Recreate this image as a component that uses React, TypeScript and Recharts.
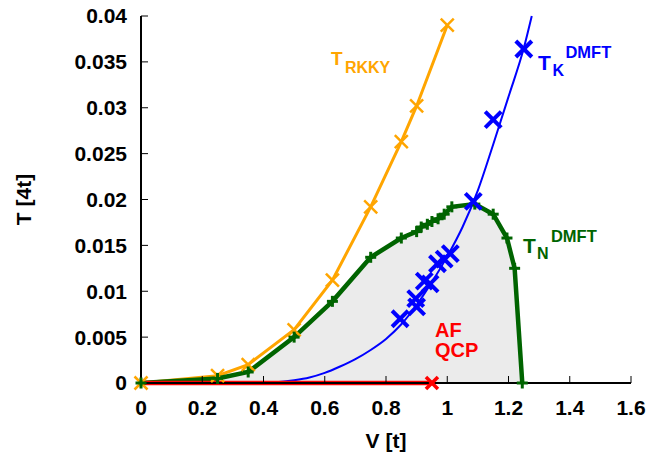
import React from "react";
import { ComposedChart, Line, Area, XAxis, YAxis, ReferenceDot } from "recharts";

// ---- data ----
const rkkyV = [0, 0.25, 0.35, 0.5, 0.625, 0.75, 0.85, 0.9, 1.0];
const rkkyT = [0, 0.0008, 0.002, 0.0058, 0.0112, 0.0192, 0.0263, 0.0302, 0.039];

const tnV = [0, 0.25, 0.35, 0.5, 0.625, 0.75, 0.85, 0.9, 0.915, 0.935, 0.95, 0.97, 0.99, 1.015, 1.09, 1.15, 1.195, 1.22, 1.245];
const tnT = [0, 0.0005, 0.0012, 0.005, 0.0089, 0.0137, 0.0158, 0.0165, 0.017, 0.0173, 0.0176, 0.0179, 0.0184, 0.0192, 0.0195, 0.0184, 0.0158, 0.0125, 0];

const tkV = [0.846, 0.9, 0.897, 0.925, 0.944, 0.968, 0.99, 1.01, 1.085, 1.15, 1.25];
const tkT = [0.007, 0.0083, 0.0092, 0.0111, 0.0108, 0.013, 0.0135, 0.0141, 0.0198, 0.0287, 0.0364];

const fitV = [0.35, 0.4, 0.45, 0.5, 0.55, 0.6, 0.65, 0.7, 0.75, 0.8, 0.85, 0.9, 0.95, 1.0, 1.05, 1.1, 1.15, 1.2, 1.25, 1.276];
const fitT = [0, 0.00002, 0.0001, 0.0003, 0.0006, 0.0011, 0.0018, 0.0026, 0.0036, 0.0048, 0.0064, 0.0085, 0.011, 0.0138, 0.017, 0.021, 0.026, 0.0312, 0.0365, 0.04];

const afV = [0, 0.95];
const afT = [0, 0];

const xTicks = [0, 0.2, 0.4, 0.6, 0.8, 1, 1.2, 1.4, 1.6];
const yTicks = [0, 0.005, 0.01, 0.015, 0.02, 0.025, 0.03, 0.035, 0.04];

const zip = (xs: number[], ys: number[]) => xs.map((v, i) => ({ v, t: ys[i] }));
const rkkyData = zip(rkkyV, rkkyT);
const tnData = zip(tnV, tnT);
const tkData = zip(tkV, tkT);
const fitData = zip(fitV, fitT);
const afData = zip(afV, afT);

const FONT = "'Liberation Sans', Arial, Helvetica, sans-serif";
const ORANGE = "#FFA500";
const GREEN = "#006400";
const BLUE = "#0000FF";
const RED = "#FF0000";

const XMark = ({ cx, cy, s, color, w }: any) => (
  <g>
    <line x1={cx - s} y1={cy - s} x2={cx + s} y2={cy + s} stroke={color} strokeWidth={w} />
    <line x1={cx - s} y1={cy + s} x2={cx + s} y2={cy - s} stroke={color} strokeWidth={w} />
  </g>
);
const PlusMark = ({ cx, cy, s, color, w }: any) => (
  <g>
    <line x1={cx - s} y1={cy} x2={cx + s} y2={cy} stroke={color} strokeWidth={w} />
    <line x1={cx} y1={cy - s} x2={cx} y2={cy + s} stroke={color} strokeWidth={w} />
  </g>
);

const tickStyle = { fontFamily: FONT, fontWeight: "bold", fontSize: 21, fill: "#000" };
const axisLine = { stroke: "#000", strokeWidth: 2 };
const tickLine = { stroke: "#000", strokeWidth: 1 };

export default function App() {
  return (
    <div style={{ position: "absolute", left: 0, top: 0 }}>
      <ComposedChart width={665} height={453} data={tnData} margin={{ top: 16, right: 34, bottom: 0, left: 0 }}>
        <XAxis
          dataKey="v"
          type="number"
          domain={[0, 1.6]}
          ticks={xTicks}
          interval={0}
          height={70}
          tickSize={-7}
          tickMargin={24}
          tick={tickStyle}
          axisLine={axisLine}
          tickLine={tickLine}
          label={{
            content: ({ viewBox }: any) => (
              <text x={viewBox.x + viewBox.width / 2} y={viewBox.y + 65} textAnchor="middle" style={{ fontFamily: FONT, fontWeight: "bold", fontSize: 21 }} fill="#000">
                V [t]
              </text>
            ),
          }}
        />
        <XAxis
          xAxisId="top"
          orientation="top"
          dataKey="v"
          type="number"
          domain={[0, 1.6]}
          ticks={xTicks}
          interval={0}
          height={0}
          tickSize={-7}
          tickFormatter={() => ""}
          axisLine={axisLine}
          tickLine={tickLine}
        />
        <YAxis
          type="number"
          domain={[0, 0.04]}
          ticks={yTicks}
          interval={0}
          width={141}
          tickSize={-7}
          tickMargin={21}
          tick={tickStyle}
          axisLine={axisLine}
          tickLine={tickLine}
          label={{
            content: ({ viewBox }: any) => {
              const cx = 31;
              const cy = viewBox.y + viewBox.height / 2;
              return (
                <text x={cx} y={cy} transform={`rotate(-90 ${cx} ${cy})`} textAnchor="middle" style={{ fontFamily: FONT, fontWeight: "bold", fontSize: 21 }} fill="#000">
                  T [4t]
                </text>
              );
            },
          }}
        />
        <YAxis
          yAxisId="right"
          orientation="right"
          type="number"
          domain={[0, 0.04]}
          ticks={yTicks}
          interval={0}
          width={0}
          tickSize={-7}
          tickFormatter={() => ""}
          axisLine={axisLine}
          tickLine={tickLine}
        />

        <Area dataKey="t" type="linear" fill="#ebebeb" fillOpacity={1} stroke="none" isAnimationActive={false} activeDot={false} />

        <Line
          data={rkkyData}
          dataKey="t"
          type="linear"
          stroke={ORANGE}
          strokeWidth={3}
          isAnimationActive={false}
          activeDot={false}
          dot={(p: any) => <XMark key={`o${p.index}`} cx={p.cx} cy={p.cy} s={6.5} color={ORANGE} w={2.5} />}
        />
        <Line
          data={tnData}
          dataKey="t"
          type="linear"
          stroke={GREEN}
          strokeWidth={4.5}
          isAnimationActive={false}
          activeDot={false}
          dot={(p: any) => <PlusMark key={`g${p.index}`} cx={p.cx} cy={p.cy} s={5.5} color={GREEN} w={3} />}
        />
        <Line
          data={fitData}
          dataKey="t"
          type="monotone"
          stroke={BLUE}
          strokeWidth={2}
          isAnimationActive={false}
          activeDot={false}
          dot={false}
        />
        <Line
          data={tkData}
          dataKey="t"
          type="linear"
          stroke="none"
          isAnimationActive={false}
          activeDot={false}
          dot={(p: any) => <XMark key={`b${p.index}`} cx={p.cx} cy={p.cy} s={8} color={BLUE} w={4} />}
        />
        <Line
          data={afData}
          dataKey="t"
          type="linear"
          stroke={RED}
          strokeWidth={4.5}
          isAnimationActive={false}
          activeDot={false}
          dot={(p: any) =>
            p.index === afData.length - 1 ? (
              <XMark key={`r${p.index}`} cx={p.cx} cy={p.cy} s={6} color={RED} w={3.5} />
            ) : (
              <g key={`r${p.index}`} />
            )
          }
        />

        <ReferenceDot
          x={0.62}
          y={0.0347}
          r={1}
          isFront
          shape={(p: any) => (
            <g style={{ fontFamily: FONT, fontWeight: "bold" }} fill={ORANGE}>
              <text x={p.cx} y={p.cy} fontSize={19}>T</text>
              <text x={p.cx + 14} y={p.cy + 8} fontSize={16}>RKKY</text>
            </g>
          )}
        />
        <ReferenceDot
          x={1.296}
          y={0.0341}
          r={1}
          isFront
          shape={(p: any) => (
            <g style={{ fontFamily: FONT, fontWeight: "bold" }} fill={BLUE}>
              <text x={p.cx} y={p.cy} fontSize={21}>T</text>
              <text x={p.cx + 14.5} y={p.cy + 6} fontSize={16}>K</text>
              <text x={p.cx + 27.5} y={p.cy - 11.7} fontSize={16.5}>DMFT</text>
            </g>
          )}
        />
        <ReferenceDot
          x={1.247}
          y={0.01414}
          r={1}
          isFront
          shape={(p: any) => (
            <g style={{ fontFamily: FONT, fontWeight: "bold" }} fill={GREEN}>
              <text x={p.cx} y={p.cy} fontSize={21}>T</text>
              <text x={p.cx + 14} y={p.cy + 6} fontSize={16}>N</text>
              <text x={p.cx + 28} y={p.cy - 11.6} fontSize={16.5}>DMFT</text>
            </g>
          )}
        />
        <ReferenceDot
          x={0.96}
          y={0.00505}
          r={1}
          isFront
          shape={(p: any) => (
            <g style={{ fontFamily: FONT, fontWeight: "bold" }} fill={RED}>
              <text x={p.cx} y={p.cy} fontSize={20}>AF</text>
              <text x={p.cx} y={p.cy + 20.5} fontSize={20}>QCP</text>
            </g>
          )}
        />
      </ComposedChart>
    </div>
  );
}
